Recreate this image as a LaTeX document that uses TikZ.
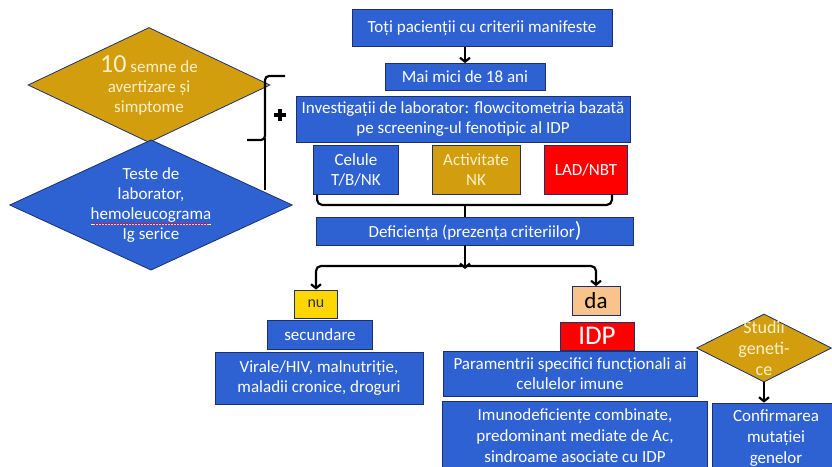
\documentclass[tikz,border=0pt]{standalone}
\usepackage{fontspec}
\setmainfont{Carlito}
\usetikzlibrary{shapes.geometric,arrows.meta,decorations.pathmorphing}
\definecolor{idpblue}{RGB}{46,98,211}
\definecolor{idpedge}{RGB}{28,48,110}
\definecolor{idpgold}{RGB}{210,158,14}
\definecolor{idpcream}{RGB}{253,240,200}
\definecolor{idpyellow}{RGB}{255,214,0}
\definecolor{idppeach}{RGB}{248,196,140}
\definecolor{idpred}{RGB}{255,0,0}
\tikzset{
  box/.style={rectangle, fill=idpblue, draw=idpedge, line width=0.8pt, text=white,
    align=center, inner sep=1pt, font=\fontsize{17}{20}\selectfont},
  goldbox/.style={box, fill=idpgold, text=idpcream},
  redbox/.style={box, fill=idpred},
  golddiam/.style={diamond, fill=idpgold, draw=idpedge, line width=0.8pt, text=idpcream,
    align=center, inner sep=0pt, font=\fontsize{17}{20}\selectfont},
  bluediam/.style={golddiam, fill=idpblue, text=white},
  link/.style={line width=2.2pt, -{Straight Barb[length=4pt,width=10pt]}},
  bar/.style={line width=2.2pt, rounded corners=5pt},
}
\begin{document}
\begin{tikzpicture}[x=1pt,y=-1pt]
\useasboundingbox (0,0) rectangle (832,466);
% left diamonds and brace
\node[golddiam, minimum width=242, minimum height=115, shape aspect=2.1] (semne) at (149,85)
  {{\fontsize{26}{24}\selectfont 10} semne de\\avertizare și\\simptome};
\node[bluediam, minimum width=282, minimum height=130, shape aspect=2.17] (teste) at (151,205)
  {Teste de\\laborator,\\\underline{hemoleucograma}\\Ig serice};
\draw[red, line width=0.5pt, decorate, decoration={snake, amplitude=0.8pt, segment length=3pt}]
  (93,224) -- (209,224);
\draw[bar, rounded corners=4pt] (285,76) -- (265,76) -- (265,140) -- (247,140);
\draw[bar] (265,138) -- (265,190);
\draw[line width=4pt] (274,115) -- (286,115) (280,109) -- (280,121);
% main column
\node[box, minimum width=260, minimum height=37] (toti) at (482,28) {Toți pacienții cu criterii manifeste};
\node[box, minimum width=160, minimum height=27] (mai) at (465,77) {Mai mici de 18 ani};
\node[box, minimum width=334, minimum height=46] (invest) at (463,119)
  {Investigații de laborator: flowcitometria bazată\\pe screening-ul fenotipic al IDP};
\node[box, minimum width=85, minimum height=49] (celule) at (356,170) {Celule\\T/B/NK};
\node[goldbox, minimum width=88, minimum height=49] (activ) at (476,170) {Activitate\\NK};
\node[redbox, minimum width=83, minimum height=49] (lad) at (586,170) {LAD/NBT};
\node[box, minimum width=317, minimum height=28] (defic) at (475,231)
  {Deficiența (prezența criteriilor{\fontsize{22}{22}\selectfont)}};
\draw[link] (mai.north |- toti.south) -- (mai.north);
\draw[bar] ([xshift=4pt]celule.south west) -- ++(0,10) -| ([xshift=-16pt]lad.south east);
\coordinate (brk) at (465,205);
\draw[bar] (brk) -- (brk |- defic.north);
% branches
\node[box, fill=idpyellow, text=black!80, minimum width=43, minimum height=28,
  font=\fontsize{16}{16}\selectfont] (nu) at (316,304) {nu};
\node[box, minimum width=105, minimum height=29] (secund) at (320,335) {secundare};
\node[box, minimum width=208, minimum height=52] (virale) at (319,378)
  {Virale/HIV, malnutriție,\\maladii cronice, droguri};
\node[box, fill=idppeach, text=black, minimum width=48, minimum height=29,
  font=\fontsize{23}{23}\selectfont] (da) at (596,301) {da};
\node[redbox, minimum width=74, minimum height=28, font=\fontsize{27}{27}\selectfont] (idp) at (597,336) {IDP};
\node[box, minimum width=254, minimum height=45] (param) at (570,374)
  {Paramentrii specifici funcționali ai\\celulelor imune};
\node[box, minimum width=265, minimum height=70, font=\fontsize{17}{21}\selectfont] (imuno) at (575,436)
  {Imunodeficiențe combinate,\\predominant mediate de Ac,\\sindroame asociate cu IDP};
\node[golddiam, minimum width=135, minimum height=68, shape aspect=2, inner sep=-7pt,
  font=\fontsize{18}{21}\selectfont] (studii) at (764,348) {Studii\\geneti-\\ce};
\node[box, minimum width=128, minimum height=70, font=\fontsize{17}{21}\selectfont] (confirm) at (776,438)
  {Confirmarea\\mutației\\genelor};
\coordinate (split) at (465,266);
\draw[link] (defic.south -| split) -- ([yshift=-3pt]split);
\draw[link, rounded corners=5pt] (split) -| (nu.north);
\draw[link, rounded corners=5pt] (split) -| (da.north);
\draw[link] (studii.south) -- (studii.south |- confirm.north);
\end{tikzpicture}
\end{document}
